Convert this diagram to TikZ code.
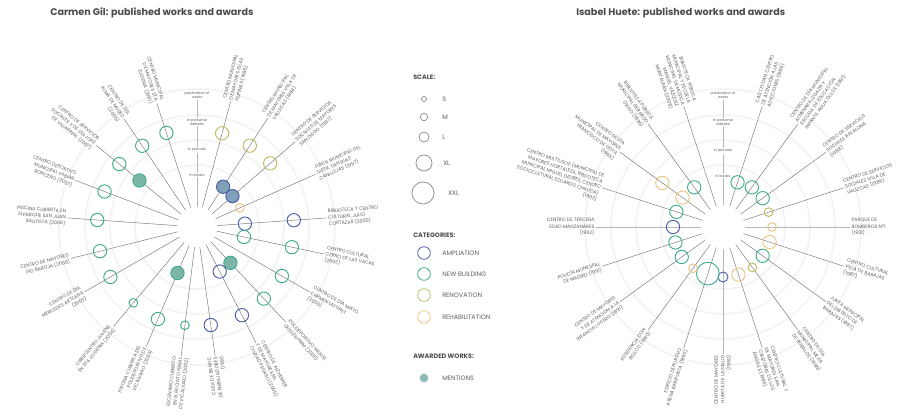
\documentclass[tikz,border=0pt]{standalone}
\usepackage{fontspec}
\setmainfont{Poppins}
\usepackage{tikz}
\usetikzlibrary{positioning}

\definecolor{ampl}{RGB}{78,95,166}
\definecolor{newb}{RGB}{63,172,140}
\definecolor{renov}{RGB}{189,187,98}
\definecolor{rehab}{RGB}{233,197,130}
\definecolor{mention}{RGB}{143,186,184}
\definecolor{mentblue}{RGB}{126,160,184}
\definecolor{mentgreen}{RGB}{125,181,169}
\definecolor{spoke}{RGB}{120,120,120}
\definecolor{axisgray}{RGB}{185,185,185}
\definecolor{ringgray}{RGB}{243,243,243}
\definecolor{txt}{RGB}{95,95,95}
\definecolor{head}{RGB}{75,75,75}
\definecolor{legc}{RGB}{140,140,140}

\tikzset{
  ttl/.style={font=\bfseries\fontsize{7.2}{8}\selectfont,text=head,anchor=west,inner sep=0pt},
  hd/.style={font=\bfseries\fontsize{4.8}{5.5}\selectfont,text=head,anchor=west,inner sep=0pt},
  lgt/.style={font=\fontsize{4.8}{5.5}\selectfont,text=txt,anchor=west,inner sep=0pt},
  hub/.style={circle,fill=white,inner sep=0pt,minimum size=30pt},
  lbl/.style={font=\fontsize{3.6}{4.7}\selectfont,text=txt,inner sep=1pt},
  lblr/.style={lbl,anchor=west,align=left},
  lbll/.style={lbl,anchor=east,align=right},
  axlbl/.style={font=\fontsize{2.7}{3.2}\selectfont,text=txt,fill=white,inner sep=0.6pt,align=center},
  spk/.style={draw=spoke,line width=0.35pt},
  axl/.style={draw=axisgray,line width=0.5pt},
  ringline/.style={draw=ringgray,line width=1.2pt},
  mk/.style={circle,draw,line width=0.7pt,inner sep=0pt,minimum size=10pt},
  mks/.style={mk,minimum size=6.5pt},
  mkm/.style={mk,minimum size=7.5pt},
  mkxxl/.style={mk,minimum size=17pt},
  lgc/.style={circle,draw=legc,line width=0.55pt,inner sep=0pt},
}

\begin{document}
\begin{tikzpicture}[x=0.75pt,y=0.75pt,yscale=-1,xscale=1]
\useasboundingbox (0,0) rectangle (906,420);

% Text Node
\node[ttl] (cgtitle) at (50,13) {Carmen Gil: published works and awards};
% Text Node
\node[ttl] (ihtitle) at (576,13) {Isabel Huete: published works and awards};

%%%%%%%%%%%%%%%%%%%%%%%% Carmen Gil
\begin{scope}[shift={(197,227)},yscale=-1]
%Shape: Circle
\draw[ringline] (0,0) circle (62);
\draw[ringline] (0,0) circle (87);
\draw[ringline] (0,0) circle (112);
\draw[ringline] (0,0) circle (138);
\node[hub] (cghub) at (0,0) {};

% axis
\node[axlbl,anchor=south] (cgpub) at (90:127) {publication of\\works};
\draw[axl] (cghub) -- (cgpub);
\node[axlbl] (cgweb) at (90:105) {in personal\\website};
\node[axlbl] (cgjou) at (90:77) {in journals};
\node[axlbl] (cgboo) at (90:52) {in books};

% Text Node
\node[lblr,rotate=75] (cg1) at (75:130) {CENTRO MUNICIPAL\\DE MAYORES ISLAS\\FILIPINAS (1986)};
\node[lblr,rotate=57] (cg2) at (57:130) {CENTRO MUNICIPAL\\DE MAYORES VILLA DE\\VALLECAS (1984)};
\node[lblr,rotate=41] (cg3) at (41:130) {CENTRO DE SERVICIOS\\SOCIALES DE MAYORES\\SAN DIEGO (1987)};
\node[lblr,rotate=24] (cg4) at (24:130) {JUNTA MUNICIPAL DEL\\DISTR. SAN BLAS\\CANILLEJAS (1997)};
\node[lblr,rotate=4] (cg5) at (4:130) {BIBLIOTECA Y CENTRO\\CULTURAL JULIO\\CORTÁZAR (2000)};
\node[lblr,rotate=-12] (cg6) at (-12:130) {CENTRO CULTURAL\\CERRO DE LAS VACAS\\(2002)};
\node[lblr,rotate=-30] (cg7) at (-30:130) {CENTRO DE DÍA MIXTO\\CARMEN LAFORET\\(2000)};
\node[lblr,rotate=-47] (cg8) at (-47:130) {POLIDEPORTIVO MIGUEL\\GUILLÉN PRIM (2000)};
\node[lblr,rotate=-63] (cg9) at (-63:130) {CENTRO DE ALZHEIMER\\Y DE MAYORES EN\\CIUDAD PEGASO (2000)};
\node[lbll,rotate=98] (cg10) at (-82:130) {CASA DE BAÑOS\\DE EMBAJADORES\\(1991)};
\node[lbll,rotate=83] (cg11) at (-97:130) {ESCENARIO CUBIERTO\\EN EL RECINTO FERIAL\\DE VICÁLVARO (2002)};
\node[lbll,rotate=67] (cg12) at (-113:130) {PISCINA CUBIERTA DEL\\POLIDEPORTIVO DE\\VICÁLVARO (2003)};
\node[lbll,rotate=50] (cg13) at (-130:130) {CIBERCENTRO JUVENIL\\EN STA. EUGENIA (2004)};
\node[lbll,rotate=30] (cg14) at (-150:130) {CENTRO DE DÍA\\MERCEDES ARTEAGA\\(2003)};
\node[lbll,rotate=14] (cg15) at (-166:130) {CENTRO DE MAYORES\\PÍO BAROJA (2006)};
\node[lbll,rotate=-4] (cg16) at (176:130) {PISCINA CUBIERTA EN\\ELPARQUE SAN JUAN\\BAUTISTA (2006)};
\node[lbll,rotate=-21] (cg17) at (159:130) {CENTRO DEPORTIVO\\MUNICIPAL FABIÁN\\RONCERO (2007)};
\node[lbll,rotate=-39] (cg18) at (141:130) {CENTRO DE SERVICIOS\\SOCIALES Y DE DÍA JOSÉ\\DE VILLARREAL (2007)};
\node[lbll,rotate=-56] (cg19) at (124:130) {CENTRO DE DÍA\\ALMA DE MUSEO\\(2005)};
\node[lbll,rotate=-72] (cg20) at (108:130) {CENTRO MUNICIPAL\\DE MAYORES STA.\\EUGENIA (2001)};

\draw[spk] (cghub) -- (cg1);
\draw[spk] (cghub) -- (cg2);
\draw[spk] (cghub) -- (cg3);
\draw[spk] (cghub) -- (cg4);
\draw[spk] (cghub) -- (cg5);
\draw[spk] (cghub) -- (cg6);
\draw[spk] (cghub) -- (cg7);
\draw[spk] (cghub) -- (cg8);
\draw[spk] (cghub) -- (cg9);
\draw[spk] (cghub) -- (cg10);
\draw[spk] (cghub) -- (cg11);
\draw[spk] (cghub) -- (cg12);
\draw[spk] (cghub) -- (cg13);
\draw[spk] (cghub) -- (cg14);
\draw[spk] (cghub) -- (cg15);
\draw[spk] (cghub) -- (cg16);
\draw[spk] (cghub) -- (cg17);
\draw[spk] (cghub) -- (cg18);
\draw[spk] (cghub) -- (cg19);
\draw[spk] (cghub) -- (cg20);

%Shape: Circle
\node[mk,draw=renov] (cg1a) at (75:97) {};
\node[mk,draw=renov] (cg2a) at (57:97) {};
\node[mk,draw=ampl,fill=mentblue] (cg2b) at (57:48) {};
\node[mk,draw=renov] (cg3a) at (41:97) {};
\node[mk,draw=ampl,fill=mentblue] (cg3b) at (41:47) {};
\node[mks,draw=rehab] (cg4a) at (24:47) {};
\node[mk,draw=ampl] (cg5a) at (4:48) {};
\node[mk,draw=ampl] (cg5b) at (4:97) {};
\node[mk,draw=newb] (cg6a) at (-12:48) {};
\node[mk,draw=newb] (cg6b) at (-12:97) {};
\node[mk,draw=newb] (cg7a) at (-30:98) {};
\node[mk,draw=newb] (cg8a) at (-47:98) {};
\node[mk,draw=newb,fill=mentgreen] (cg8b) at (-47:49) {};
\node[mk,draw=ampl] (cg9a) at (-63:50) {};
\node[mk,draw=ampl] (cg9b) at (-63:99) {};
\node[mk,draw=ampl] (cg10a) at (-82:99) {};
\node[mks,draw=newb] (cg11a) at (-97:99) {};
\node[mk,draw=newb] (cg12a) at (-113:100) {};
\node[mk,draw=newb,fill=mentgreen] (cg12b) at (-113:50) {};
\node[mks,draw=newb] (cg13a) at (-130:99) {};
\node[mk,draw=newb] (cg14a) at (-150:100) {};
\node[mk,draw=newb] (cg15a) at (-166:100) {};
\node[mk,draw=newb] (cg16a) at (176:100) {};
\node[mk,draw=newb] (cg17a) at (159:99) {};
\node[mk,draw=newb] (cg18a) at (141:100) {};
\node[mk,draw=newb,fill=mentgreen] (cg18b) at (141:74) {};
\node[mk,draw=newb] (cg19a) at (124:98) {};
\node[mk,draw=newb] (cg20a) at (108:99) {};
\end{scope}

%%%%%%%%%%%%%%%%%%%%%%%% Isabel Huete
\begin{scope}[shift={(723,227)},yscale=-1]
%Shape: Circle
\draw[ringline] (0,0) circle (62);
\draw[ringline] (0,0) circle (87);
\draw[ringline] (0,0) circle (112);
\draw[ringline] (0,0) circle (138);
\node[hub,minimum size=32pt] (ihhub) at (0,0) {};

% axis
\node[axlbl,anchor=south] (ihpub) at (90:127) {publication of\\works};
\draw[axl] (ihhub) -- (ihpub);
\node[axlbl] (ihweb) at (90:105) {in personal\\website};
\node[axlbl] (ihjou) at (90:76) {in journals};
\node[axlbl] (ihboo) at (90:51) {in books};

% Text Node
\node[lblr,rotate=72] (ih1) at (72:127) {CAD TETUÁN: CENTRO\\DE ATENCIÓN A LAS\\ADICCIONES (1986)};
\node[lblr,rotate=54] (ih2) at (54:127) {CENTRO DE DÍA MUNICIPAL\\ALMENARA LEGAZPI Y\\ESCUELA DE EDUCACIÓN\\INFANTIL AGUA DULCE (1991)};
\node[lblr,rotate=36] (ih3) at (36:127) {CENTRO DE SERVICIOS\\SOCIALES BATALONA\\(1988)};
\node[lblr,rotate=18] (ih4) at (18:127) {CENTRO DE SERVICIOS\\SOCIALES VILLA DE\\VALLECAS (1986)};
\node[lblr,rotate=0] (ih5) at (0:127) {PARQUE DE\\BOMBEROS Nº1\\(1931)};
\node[lblr,rotate=-18] (ih6) at (-18:127) {CENTRO CULTURAL\\VILLA DE BARAJAS\\(1987)};
\node[lblr,rotate=-36] (ih7) at (-36:127) {JUNTA MUNICIPAL\\DEL DISTRITO DE\\BARAJAS (1987)};
\node[lblr,rotate=-54] (ih8) at (-54:127) {CENTRO DE DÍA\\MUNICIPAL MEJÍA\\DE RUBALOS (1986)};
\node[lblr,rotate=-72] (ih9) at (-72:127) {CENTRO CULTURAL Y\\DE MAYORES SAN\\CRISTÓBAL DE LOS\\ÁNGELES (1986)};
\node[lbll,rotate=90] (ih10) at (-90:127) {CENTRO DE MAYORES\\HUERTA DE LA SALUD\\(1990)};
\node[lbll,rotate=72] (ih11) at (-108:127) {EDIFICIO DEPORTIVO\\ARENA ARRIPOSTA (1990)};
\node[lbll,rotate=54] (ih12) at (-126:127) {RESIDENCIA DON\\BOSCO (1990)};
\node[lbll,rotate=36] (ih13) at (-144:127) {CENTRO DE MAYORES\\Y DE ATENCIÓN A LA\\INFANCIA LUCERO (1991)};
\node[lbll,rotate=18] (ih14) at (-162:127) {POLICÍA MUNICIPAL\\DE MADRID (1991)};
\node[lbll,rotate=0] (ih15) at (180:127) {CENTRO DE TERCERA\\EDAD MANZANARES\\(1992)};
\node[lbll,rotate=-18] (ih16) at (162:127) {CENTRO MULTIUSOS (MUNICIPAL DE\\MAYORES HORTALEZA, BIBLIOTECA\\MUNICIPAL MIGUEL DELIBES, CENTRO\\SOCIOCULTURAL EDUARDO CHILLIDA)\\(1993)};
\node[lbll,rotate=-36] (ih17) at (144:127) {CENTRO DE DÍA\\MUNICIPAL DE MAYORES\\FRANCISCO DE GOYA\\(1995)};
\node[lbll,rotate=-54] (ih18) at (126:127) {BIBLIOTECA PÚBLICA\\MUNICIPAL GERARDO\\DIEGO (1996)};
\node[lbll,rotate=-72] (ih19) at (108:127) {BIBLIOTECA PÚBLICA\\MUNICIPAL Y ESCUELA\\MUNICIPAL DE MÚSICA\\MANUEL VÁZQUEZ\\MONTALBÁN (2008)};

\draw[spk] (ihhub) -- (ih1);
\draw[spk] (ihhub) -- (ih2);
\draw[spk] (ihhub) -- (ih3);
\draw[spk] (ihhub) -- (ih4);
\draw[axl] (ihhub) -- (ih5);
\draw[spk] (ihhub) -- (ih6);
\draw[spk] (ihhub) -- (ih7);
\draw[spk] (ihhub) -- (ih8);
\draw[spk] (ihhub) -- (ih9);
\draw[axl] (ihhub) -- (ih10);
\draw[spk] (ihhub) -- (ih11);
\draw[spk] (ihhub) -- (ih12);
\draw[spk] (ihhub) -- (ih13);
\draw[spk] (ihhub) -- (ih14);
\draw[axl] (ihhub) -- (ih15);
\draw[spk] (ihhub) -- (ih16);
\draw[spk] (ihhub) -- (ih17);
\draw[spk] (ihhub) -- (ih18);
\draw[spk] (ihhub) -- (ih19);

%Shape: Circle
\node[mk,draw=newb] (ih1a) at (72:47) {};
\node[mk,draw=newb] (ih2a) at (54:49) {};
\node[mk,draw=newb] (ih3a) at (36:49) {};
\node[mks,draw=renov] (ih4a) at (18:48) {};
\node[mks,draw=rehab] (ih5a) at (0:49) {};
\node[mk,draw=rehab] (ih6a) at (-18:49) {};
\node[mk,draw=newb] (ih7a) at (-36:49) {};
\node[mks,draw=renov] (ih8a) at (-54:50) {};
\node[mk,draw=rehab] (ih9a) at (-72:50) {};
\node[mkm,draw=ampl] (ih10a) at (-90:50) {};
\node[mkxxl,draw=newb] (ih11a) at (-108:49) {};
\node[mks,draw=rehab] (ih12a) at (-126:51) {};
\node[mk,draw=newb] (ih13a) at (-144:51) {};
\node[mk,draw=newb] (ih14a) at (-162:50) {};
\node[mk,draw=ampl] (ih15a) at (180:50) {};
\node[mk,draw=newb] (ih16a) at (162:49) {};
\node[mk,draw=rehab] (ih17a) at (144:50) {};
\node[mk,draw=rehab] (ih17b) at (144:75) {};
\node[mk,draw=newb] (ih18a) at (126:49) {};
\end{scope}

%%%%%%%%%%%%%%%%%%%%%%%% legend
% Text Node
\node[hd] (scale) at (413,77) {SCALE:};
\node[lgc,minimum size=3.8pt] (sS) at (424,99) {};
\node[lgc,minimum size=5.6pt] (sM) at (424,117) {};
\node[lgc,minimum size=7.5pt] (sL) at (424,137) {};
\node[lgc,minimum size=12pt] (sXL) at (424,163) {};
\node[lgc,minimum size=16.5pt] (sXXL) at (423,193) {};
\node[lgt] (tS) at (442,99) {S};
\node[lgt] (tM) at (442,117) {M};
\node[lgt] (tL) at (442,137) {L};
\node[lgt] (tXL) at (443,163) {XL};
\node[lgt] (tXXL) at (448,193) {XXL};

\node[hd] (categ) at (413,235) {CATEGORIES:};
\node[mk,line width=0.6pt,minimum size=9.5pt,draw=ampl] (cAmp) at (424,253) {};
\node[mk,line width=0.6pt,minimum size=9.5pt,draw=newb] (cNew) at (424,274) {};
\node[mk,line width=0.6pt,minimum size=9.5pt,draw=renov] (cRen) at (424,295) {};
\node[mk,line width=0.6pt,minimum size=9.5pt,draw=rehab] (cReh) at (424,317) {};
\node[lgt] (tAmp) at (442,253) {AMPLIATION};
\node[lgt] (tNew) at (442,274) {NEW BUILDING};
\node[lgt] (tRen) at (442,295) {RENOVATION};
\node[lgt] (tReh) at (442,317) {REHABILITATION};

\node[hd] (award) at (413,356) {AWARDED WORKS:};
\node[circle,fill=mention,inner sep=0pt,minimum size=6.5pt] (cMen) at (424,378) {};
\node[lgt] (tMen) at (442,378) {MENTIONS};
\end{tikzpicture}
\end{document}
